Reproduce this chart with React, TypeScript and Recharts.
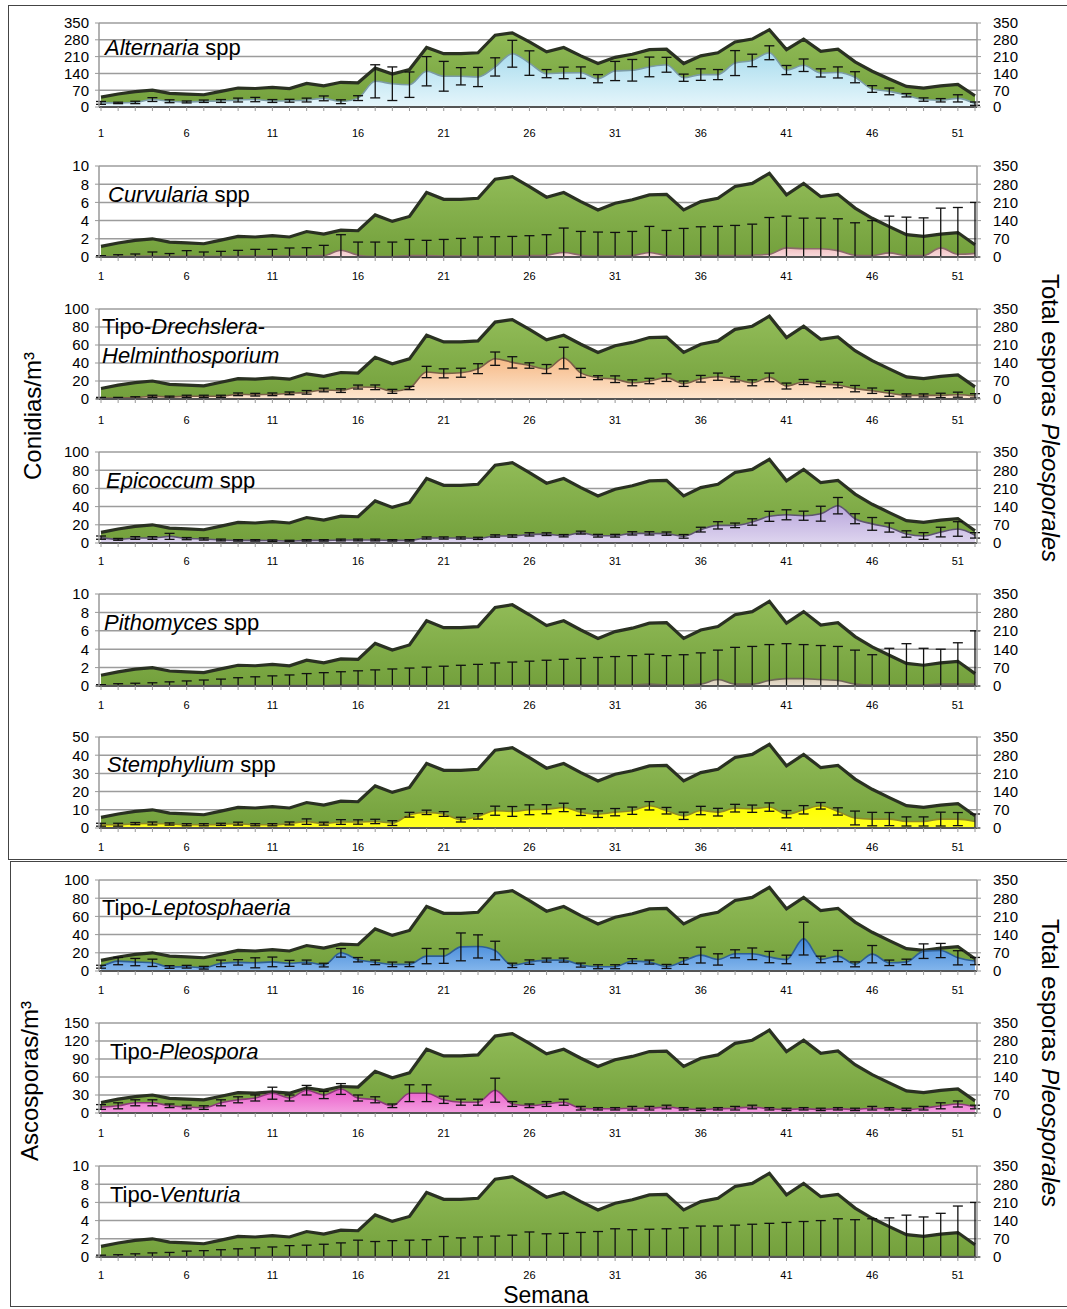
import React from "react"
import { Area, CartesianGrid, ComposedChart, ErrorBar, Line, XAxis, YAxis } from "recharts"

const FONT = '"Liberation Sans", Arial, sans-serif'

const weeks = Array.from({ length: 52 }, (_, i) => i + 1)
const weekLabels = [1, 6, 11, 16, 21, 26, 31, 36, 41, 46, 51]
const rightTicks = [0, 70, 140, 210, 280, 350]

// total Pleosporales (right axis)
const totalPleosporales = [41, 54, 64, 70, 57, 54, 51, 65, 79, 77, 82, 77, 98, 88, 103, 101, 162, 137, 156, 248, 222, 222, 226, 299, 309, 271, 230, 248, 213, 181, 207, 220, 239, 241, 181, 213, 226, 271, 283, 322, 239, 283, 232, 241, 188, 149, 117, 86, 79, 88, 94, 47]

const alternaria = [17, 17, 19, 31, 24, 21, 24, 25, 29, 31, 25, 26, 29, 36, 22, 37, 107, 97, 93, 149, 128, 128, 125, 167, 222, 183, 139, 142, 143, 118, 150, 153, 167, 176, 122, 135, 135, 183, 194, 226, 154, 174, 142, 144, 124, 75, 65, 49, 31, 28, 36, 14]
const alternariaErr = [6, 3, 5, 8, 6, 4, 5, 6, 8, 9, 6, 6, 8, 10, 8, 10, 69, 70, 53, 61, 62, 36, 40, 38, 56, 51, 17, 24, 24, 17, 40, 45, 41, 31, 15, 24, 21, 52, 26, 29, 19, 26, 17, 23, 23, 14, 14, 7, 7, 7, 15, 7]

const curvularia = [0.05, 0.05, 0.08, 0.1, 0.08, 0.1, 0.08, 0.08, 0.1, 0.1, 0.1, 0.1, 0.1, 0.15, 0.75, 0.2, 0.05, 0.05, 0.15, 0.15, 0.1, 0.1, 0.1, 0.1, 0.1, 0.15, 0.2, 0.5, 0.2, 0.1, 0.1, 0.15, 0.5, 0.15, 0.1, 0.15, 0.15, 0.15, 0.2, 0.3, 1.0, 0.9, 0.9, 0.7, 0.2, 0.15, 0.45, 0.15, 0.15, 1.0, 0.3, 0.4]
const curvulariaErr = [0.1, 0.2, 0.25, 0.45, 0.3, 0.6, 0.47, 0.54, 0.63, 0.74, 0.74, 0.89, 0.92, 1.13, 1.7, 1.44, 1.59, 1.59, 1.78, 1.68, 1.83, 1.94, 2.09, 2.13, 2.16, 2.19, 2.25, 2.68, 2.61, 2.64, 2.6, 2.66, 2.86, 2.77, 3.04, 3.17, 3.21, 3.32, 3.41, 4.04, 3.49, 3.37, 3.37, 3.5, 3.56, 3.85, 4.04, 4.23, 4.15, 4.37, 5.14, 5.6]

const drechslera = [1, 1, 1.5, 3, 2.2, 3, 3, 3, 5.2, 4.8, 5.2, 6.3, 7.4, 10, 9.3, 13.3, 13, 8.5, 12.2, 30, 28.5, 29.2, 33.7, 44.8, 40.7, 37.2, 33.3, 45.5, 29, 23.7, 22, 18, 20, 23.7, 17, 22.5, 24.8, 22, 18, 24, 14.4, 18.9, 16.7, 15.5, 11.5, 9.2, 6.3, 4, 4, 4, 4.8, 3.5]
const drechsleraErr = [0.8, 0.8, 1, 1.2, 1, 1.2, 1.2, 1.2, 1.5, 1.5, 1.5, 1.5, 2, 2, 2, 2.2, 2.6, 2.2, 1.8, 6.3, 5, 5, 5.5, 7.4, 6.3, 3, 5, 12, 5, 2.2, 3.7, 3.3, 3, 4.2, 3, 3.7, 4, 3, 3.3, 4.8, 3.3, 2.8, 3, 3, 3.5, 3, 3.3, 1.7, 1.7, 2.4, 2.8, 2.4]

const epicoccum = [5.9, 4, 5.5, 5.5, 7.3, 4.8, 4.4, 3.3, 2.9, 2.9, 2.6, 2.2, 2.9, 2.9, 3.3, 3.3, 3.3, 2.9, 2.9, 5.5, 5.5, 5.5, 5.1, 7.7, 7.7, 9.5, 9.7, 8, 11.4, 8, 8, 10.6, 10.6, 10.3, 7.3, 14.7, 19.4, 19.4, 23.1, 29.3, 31, 30, 32.2, 41, 26.7, 21, 17, 9.9, 7.7, 12, 15.4, 8.4]
const epicoccumErr = [1.8, 1, 1.5, 1.5, 3.3, 1.2, 1.2, 1, 0.8, 0.8, 0.8, 0.8, 0.8, 0.8, 1, 1, 1, 0.8, 0.8, 1.2, 1.2, 1.2, 1.2, 1.3, 1.3, 1.8, 1.5, 1.3, 1.6, 1.5, 1.5, 1.8, 1.8, 1.8, 2, 2.6, 4, 2.5, 3.5, 5.5, 5.5, 5, 8.2, 9, 5.5, 7, 5, 3.5, 3.7, 5.3, 8, 3]

const pithomyces = [0.05, 0.05, 0.05, 0.05, 0.05, 0.05, 0.05, 0.05, 0.05, 0.05, 0.05, 0.05, 0.05, 0.05, 0.1, 0.1, 0.05, 0.05, 0.05, 0.05, 0.05, 0.05, 0.05, 0.05, 0.05, 0.1, 0.1, 0.1, 0.1, 0.1, 0.1, 0.1, 0.2, 0.1, 0.1, 0.2, 0.7, 0.2, 0.2, 0.6, 0.8, 0.8, 0.7, 0.6, 0.2, 0.1, 0.1, 0.1, 0.1, 0.2, 0.2, 0.2]
const pithomycesErr = [0.1, 0.2, 0.25, 0.3, 0.4, 0.5, 0.6, 0.7, 0.85, 0.95, 1.05, 1.15, 1.3, 1.4, 1.45, 1.55, 1.7, 1.8, 1.9, 2.0, 2.1, 2.2, 2.3, 2.45, 2.55, 2.6, 2.7, 2.8, 2.9, 3.0, 3.1, 3.2, 3.25, 3.2, 3.3, 3.4, 3.2, 4.0, 4.1, 3.9, 3.8, 3.7, 3.7, 3.7, 3.7, 3.3, 4.0, 4.5, 4.0, 3.8, 4.5, 5.8]

const stemphylium = [1.8, 1.8, 2.4, 2.5, 2.2, 1.8, 1.8, 2, 2.4, 1.8, 1.8, 2.5, 3.5, 2.4, 3.3, 3.3, 3.6, 2.7, 7.3, 8.6, 7.7, 4.6, 6.4, 9.5, 9.1, 10, 10.3, 11.3, 8.7, 7.6, 8.7, 9.5, 12.2, 9.5, 6.7, 9.6, 8.7, 10.9, 10.6, 11.5, 7.6, 10, 12.2, 9.1, 5.5, 4.9, 4.9, 3.6, 3.6, 4.9, 4.9, 3.6]
const stemphyliumErr = [0.8, 0.8, 0.6, 0.8, 0.6, 0.6, 0.6, 0.6, 0.8, 0.6, 0.6, 0.8, 1.5, 0.8, 1.3, 1.2, 1.2, 1.3, 1.3, 1.2, 1.3, 1.3, 1.5, 2.5, 2.7, 2.7, 2.5, 2.3, 1.8, 1.8, 2, 2, 2.3, 1.8, 2, 2.3, 2.1, 2.1, 2, 2.3, 2, 2.3, 1.8, 2, 3.8, 3.7, 3.6, 2.5, 2.5, 3.8, 3.6, 4.1]

const leptosphaeria = [4.7, 10.9, 9.8, 9, 4.4, 4.7, 3.6, 8.4, 9.5, 9, 10, 8.4, 9.8, 6.5, 20, 12.4, 9.5, 7.3, 7.3, 16.4, 16.4, 26.5, 27, 22.5, 6.2, 9.8, 12, 12, 6.5, 4.7, 4.7, 10.9, 9.8, 5, 10.9, 17.5, 12.7, 18.9, 18.9, 15.3, 12.7, 35.6, 12.7, 16.4, 7.3, 18.5, 9, 10, 21.8, 22.5, 14.5, 10.9]
const leptosphaeriaErr = [1.6, 4, 4, 4, 1.5, 1.5, 1.5, 3.6, 3, 5.5, 5.3, 3.3, 2.2, 2, 4.7, 2.4, 2.5, 2.5, 2.5, 8.4, 8, 15.3, 12.7, 10.2, 2.4, 2.4, 2.2, 2.2, 2.2, 2.2, 2.2, 2.7, 2.2, 2.2, 3.6, 8.7, 6.2, 4.4, 6.4, 6.2, 4.7, 18, 3.6, 6.2, 2.7, 9.5, 3, 3, 8, 7.8, 7.8, 4]

const pleospora = [10, 12, 17, 17, 12, 10, 9, 17, 22, 25, 33, 25, 38, 30, 40, 25, 22, 12, 33, 33, 22, 18, 18, 38, 15, 12, 15, 18, 8, 7, 7, 8, 8, 10, 7, 6, 7, 8, 10, 7, 6, 7, 6, 7, 6, 8, 7, 6, 8, 12, 15, 10]
const pleosporaErr = [4, 5, 5, 5, 3, 3, 3, 5, 5, 5, 10, 5, 8, 6, 9, 5, 5, 3, 14, 14, 6, 5, 5, 20, 4, 3, 4, 5, 3, 2, 2, 3, 3, 3, 2, 2, 2, 3, 3, 2, 2, 2, 2, 2, 2, 3, 2, 2, 3, 5, 5, 3]

const venturia = [0.05, 0.05, 0.05, 0.05, 0.05, 0.05, 0.05, 0.05, 0.05, 0.05, 0.05, 0.05, 0.05, 0.05, 0.05, 0.05, 0.05, 0.05, 0.05, 0.05, 0.05, 0.05, 0.05, 0.05, 0.05, 0.05, 0.05, 0.05, 0.05, 0.05, 0.05, 0.05, 0.05, 0.05, 0.05, 0.05, 0.05, 0.05, 0.05, 0.05, 0.05, 0.05, 0.05, 0.05, 0.05, 0.05, 0.05, 0.05, 0.05, 0.05, 0.05, 0.05]
const venturiaErr = [0.15, 0.2, 0.3, 0.4, 0.45, 0.6, 0.65, 0.75, 0.85, 0.95, 1.05, 1.2, 1.25, 1.35, 1.5, 1.8, 1.65, 1.75, 1.8, 1.85, 2.2, 2.05, 2.15, 2.25, 2.35, 2.7, 2.5, 2.55, 2.65, 2.75, 3.05, 2.95, 3.0, 3.05, 3.15, 3.35, 3.35, 3.45, 3.55, 3.65, 3.75, 3.85, 3.95, 4.15, 4.05, 4.15, 4.25, 4.55, 4.35, 4.75, 5.55, 5.95]

const panels = [
  { id: "alt", top: 23, bottom: 107, gap: 26, ticks: [0, 70, 140, 210, 280, 350], values: alternaria, errors: alternariaErr, title: [<><i>Alternaria</i> spp</>], tx: 105, ty: 46, c1: "#a9dcee", c2: "#e6f6fb", edge: "#7b9ba4" },
  { id: "cur", top: 166, bottom: 257, gap: 19, ticks: [0, 2, 4, 6, 8, 10], values: curvularia, errors: curvulariaErr, title: [<><i>Curvularia</i> spp</>], tx: 108, ty: 193, c1: "#f2bfc2", c2: "#f8dcdd", edge: "#8a6a6a" },
  { id: "dre", top: 309, bottom: 399, gap: 21, ticks: [0, 20, 40, 60, 80, 100], values: drechslera, errors: drechsleraErr, title: [<>Tipo-<i>Drechslera</i>-</>, <i>Helminthosporium</i>], tx: 102, ty: 325, c1: "#f6b986", c2: "#fde6cf", edge: "#7a6048" },
  { id: "epi", top: 452, bottom: 543, gap: 18, ticks: [0, 20, 40, 60, 80, 100], values: epicoccum, errors: epicoccumErr, title: [<><i>Epicoccum</i> spp</>], tx: 106, ty: 479, c1: "#b8a5dc", c2: "#ded5ef", edge: "#5e5470" },
  { id: "pit", top: 594, bottom: 686, gap: 19, ticks: [0, 2, 4, 6, 8, 10], values: pithomyces, errors: pithomycesErr, title: [<><i>Pithomyces</i> spp</>], tx: 104, ty: 621, c1: "#d6c9b1", c2: "#e9e1d3", edge: "#6e6658" },
  { id: "ste", top: 737, bottom: 828, gap: 19, ticks: [0, 10, 20, 30, 40, 50], values: stemphylium, errors: stemphyliumErr, title: [<><i>Stemphylium</i> spp</>], tx: 107, ty: 763, c1: "#ffff00", c2: "#ffff20", edge: "#8c8a2a" },
  { id: "lep", top: 880, bottom: 971, gap: 19, ticks: [0, 20, 40, 60, 80, 100], values: leptosphaeria, errors: leptosphaeriaErr, title: [<>Tipo-<i>Leptosphaeria</i></>], tx: 102, ty: 906, c1: "#3f86d8", c2: "#84b6ec", edge: "#2f5f95" },
  { id: "ple", top: 1023, bottom: 1113, gap: 20, ticks: [0, 30, 60, 90, 120, 150], values: pleospora, errors: pleosporaErr, title: [<>Tipo-<i>Pleospora</i></>], tx: 110, ty: 1050, c1: "#ea5cc9", c2: "#f49fe1", edge: "#8a3a78" },
  { id: "ven", top: 1166, bottom: 1257, gap: 18, ticks: [0, 2, 4, 6, 8, 10], values: venturia, errors: venturiaErr, title: [<>Tipo-<i>Venturia</i></>], tx: 110, ty: 1193, c1: "#cccccc", c2: "#e2e2e2", edge: "#666666" },
]

type PanelProps = (typeof panels)[number]

function Panel({ id, top, bottom, gap, ticks, values, errors, title, tx, ty, c1, c2, edge }: PanelProps) {
  const data = weeks.map((week, i) => ({
    week,
    total: totalPleosporales[i],
    value: values[i],
    err: [Math.min(errors[i], values[i]), errors[i]],
  }))
  const mTop = 8
  const axisH = 40
  const height = bottom - top + mTop + axisH
  const leftMax = ticks[ticks.length - 1]
  return (
    <>
      <div style={{ position: "absolute", left: 0, top: top - mTop }}>
        <ComposedChart width={1067} height={height} data={data} margin={{ top: mTop, right: 0, bottom: 0, left: 0 }}>
          <defs>
            <linearGradient id={`g-${id}`} x1="0" y1="0" x2="0" y2="1">
              <stop offset="0%" stopColor="#92bc58" />
              <stop offset="100%" stopColor="#73a03c" />
            </linearGradient>
            <linearGradient id={`s-${id}`} x1="0" y1="0" x2="0" y2="1">
              <stop offset="0%" stopColor={c1} />
              <stop offset="100%" stopColor={c2} />
            </linearGradient>
          </defs>
          <CartesianGrid yAxisId="left" vertical={false} stroke="#9c9c9c" strokeWidth={1.5} />
          <XAxis
            dataKey="week"
            type="number"
            domain={[1, 52]}
            ticks={weeks}
            padding={{ left: 2, right: 2 }}
            height={axisH}
            tickSize={4}
            tickMargin={gap - 8}
            stroke="#555"
            axisLine={{ stroke: "#555", strokeWidth: 2 }}
            tickLine={{ stroke: "#999" }}
            tick={{ fontSize: 11, fill: "#000" }}
            tickFormatter={(w: number) => (weekLabels.includes(w) ? String(w) : "")}
            interval={0}
          />
          <YAxis
            yAxisId="left"
            width={99}
            domain={[0, leftMax]}
            ticks={ticks}
            allowDataOverflow
            tickSize={4}
            tickMargin={6}
            axisLine={{ stroke: "#999", strokeWidth: 1.5 }}
            tickLine={{ stroke: "#999" }}
            tick={{ fontSize: 15, fill: "#000" }}
            interval={0}
          />
          <YAxis
            yAxisId="right"
            orientation="right"
            width={90}
            domain={[0, 350]}
            ticks={rightTicks}
            tickSize={4}
            tickMargin={12}
            axisLine={{ stroke: "#999", strokeWidth: 1.5 }}
            tickLine={{ stroke: "#999" }}
            tick={{ fontSize: 15, fill: "#000", textAnchor: "start" }}
            interval={0}
          />
          <Area
            yAxisId="right"
            dataKey="total"
            type="linear"
            fill={`url(#g-${id})`}
            fillOpacity={1}
            stroke="#2a3122"
            strokeWidth={3.2}
            isAnimationActive={false}
            dot={false}
            activeDot={false}
          />
          <Area
            yAxisId="left"
            dataKey="value"
            type="monotone"
            fill={`url(#s-${id})`}
            fillOpacity={1}
            stroke={edge}
            strokeWidth={1.6}
            isAnimationActive={false}
            dot={false}
            activeDot={false}
          />
          <Line yAxisId="left" dataKey="value" stroke="none" dot={false} activeDot={false} isAnimationActive={false}>
            <ErrorBar dataKey="err" width={5} stroke="#111" strokeWidth={1.3} direction="y" />
          </Line>
        </ComposedChart>
      </div>
      <div style={{ position: "absolute", left: tx, top: ty - 13, fontSize: 22, lineHeight: "29px", whiteSpace: "nowrap", color: "#000" }}>
        {title.map((t, i) => (
          <div key={i}>{t}</div>
        ))}
      </div>
    </>
  )
}

function SideLabel({ x, y, angle, children }: { x: number; y: number; angle: number; children: React.ReactNode }) {
  return (
    <div
      style={{
        position: "absolute",
        left: x,
        top: y,
        transform: `translate(-50%, -50%) rotate(${angle}deg)`,
        fontSize: 24,
        whiteSpace: "nowrap",
        lineHeight: 1,
      }}
    >
      {children}
    </div>
  )
}

export default function App() {
  return (
    <div style={{ position: "absolute", left: 0, top: 0, width: 1067, height: 1309, fontFamily: FONT, background: "#fff", overflow: "hidden" }}>
      <div style={{ position: "absolute", left: 8, top: 5, width: 1058, height: 853, border: "1px solid #444" }} />
      <div style={{ position: "absolute", left: 10, top: 861, width: 1056, height: 444, border: "1px solid #444" }} />
      {panels.map((p) => (
        <Panel key={p.id} {...p} />
      ))}
      <SideLabel x={33} y={416} angle={-90}>Conidias/m³</SideLabel>
      <SideLabel x={1050} y={418} angle={90}>
        Total esporas <i>Pleosporales</i>
      </SideLabel>
      <SideLabel x={30} y={1081} angle={-90}>Ascosporas/m³</SideLabel>
      <SideLabel x={1050} y={1063} angle={90}>
        Total esporas <i>Pleosporales</i>
      </SideLabel>
      <div style={{ position: "absolute", left: 546, top: 1295, transform: "translate(-50%, -50%)", fontSize: 23, lineHeight: 1 }}>Semana</div>
    </div>
  )
}
